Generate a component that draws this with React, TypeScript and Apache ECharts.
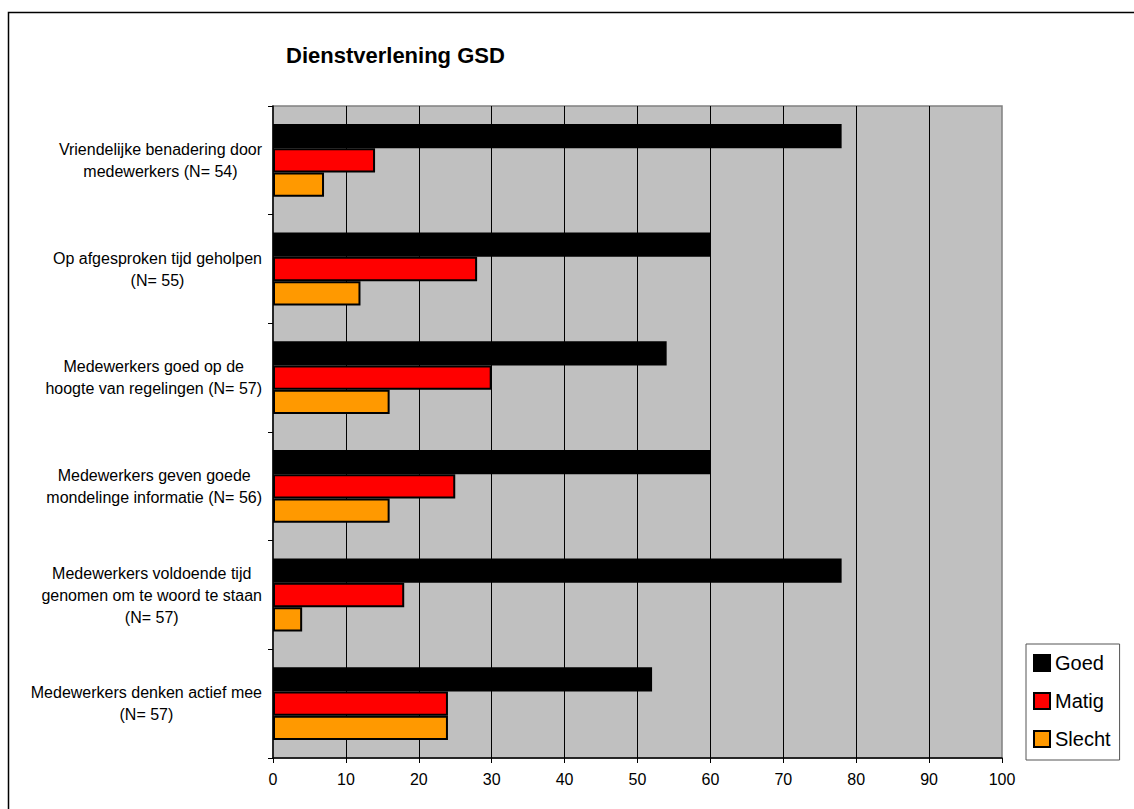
import React, { useEffect, useRef } from "react";
import * as echarts from "echarts";

const FONT = "'Liberation Sans', Arial, sans-serif";

const categories = [
  "Vriendelijke benadering door\nmedewerkers (N= 54)",
  "Op afgesproken tijd geholpen\n(N= 55)",
  "Medewerkers goed op de\nhoogte van regelingen (N= 57)",
  "Medewerkers geven goede\nmondelinge informatie (N= 56)",
  "Medewerkers voldoende tijd\ngenomen om te woord te staan\n(N= 57)",
  "Medewerkers denken actief mee\n(N= 57)",
];

const goed = [78, 60, 54, 60, 78, 52];
const matig = [14, 28, 30, 25, 18, 24];
const slecht = [7, 12, 16, 16, 4, 24];

const seriesNames = ["Goed", "Matig", "Slecht"];
const seriesColors = ["#000000", "#FF0000", "#FF9900"];
const seriesData = [goed, matig, slecht];

export default function App() {
  const ref = useRef<HTMLDivElement>(null);

  useEffect(() => {
    if (!ref.current) return;
    const chart = echarts.init(ref.current, undefined, { renderer: "svg" });
    chart.setOption({
      animation: false,
      backgroundColor: "#FFFFFF",
      textStyle: { fontFamily: FONT },
      title: {
        text: "Dienstverlening GSD",
        left: 286,
        top: 44,
        padding: 0,
        textStyle: { fontFamily: FONT, fontSize: 22, fontWeight: "bold", color: "#000" },
      },
      legend: {
        orient: "vertical",
        left: 1026,
        top: 644,
        padding: [9, 9, 11, 7],
        itemGap: 18,
        itemWidth: 16,
        itemHeight: 16,
        icon: "rect",
        backgroundColor: "#FFFFFF",
        borderColor: "#555555",
        borderWidth: 1,
        borderRadius: 0,
        textStyle: { fontFamily: FONT, fontSize: 20, color: "#000" },
        data: seriesNames,
      },
      grid: {
        left: 273,
        top: 106,
        right: 132,
        bottom: 51,
        show: true,
        backgroundColor: "#C0C0C0",
        borderColor: "#808080",
        borderWidth: 1.5,
        containLabel: false,
      },
      xAxis: {
        type: "value",
        min: 0,
        max: 100,
        interval: 10,
        axisLine: { show: true, lineStyle: { color: "#000", width: 1.5 } },
        axisTick: { show: true, length: 5, inside: false, lineStyle: { color: "#000" } },
        axisLabel: { margin: 13, fontFamily: FONT, fontSize: 16, color: "#000" },
        splitLine: {
          show: true,
          showMinLine: false,
          showMaxLine: false,
          lineStyle: { color: "#000", width: 1 },
        },
      },
      yAxis: {
        type: "category",
        data: categories,
        inverse: true,
        axisLine: { show: true, lineStyle: { color: "#000", width: 1.5 } },
        axisTick: { show: true, length: 5, alignWithLabel: false, lineStyle: { color: "#000" } },
        axisLabel: {
          margin: 11,
          align: "right",
          fontFamily: FONT,
          fontSize: 16,
          lineHeight: 22,
          color: "#000",
          // each line is centred within the label block, the block sits right-aligned
          formatter: (value: string) =>
            value
              .split("\n")
              .map((line) => `{c|${line}}`)
              .join("\n"),
          rich: {
            c: {
              align: "center",
              fontFamily: FONT,
              fontSize: 16,
              lineHeight: 22,
              color: "#000",
            },
          },
        },
        splitLine: { show: false },
      },
      graphic: [
        {
          type: "rect",
          silent: true,
          z: 100,
          shape: { x: 8.5, y: 12.5, width: 1300, height: 900 },
          style: { fill: "none", stroke: "#000", lineWidth: 1.5 },
        },
      ],
      series: seriesNames.map((name, i) => ({
        name,
        type: "bar",
        data: seriesData[i],
        barGap: "0%",
        barCategoryGap: "33%",
        itemStyle: {
          color: seriesColors[i],
          borderColor: "#000",
          borderWidth: 2,
        },
      })),
    });
    return () => chart.dispose();
  }, []);

  return (
    <div
      ref={ref}
      style={{ position: "fixed", left: 0, top: 0, width: 1134, height: 809 }}
    />
  );
}
